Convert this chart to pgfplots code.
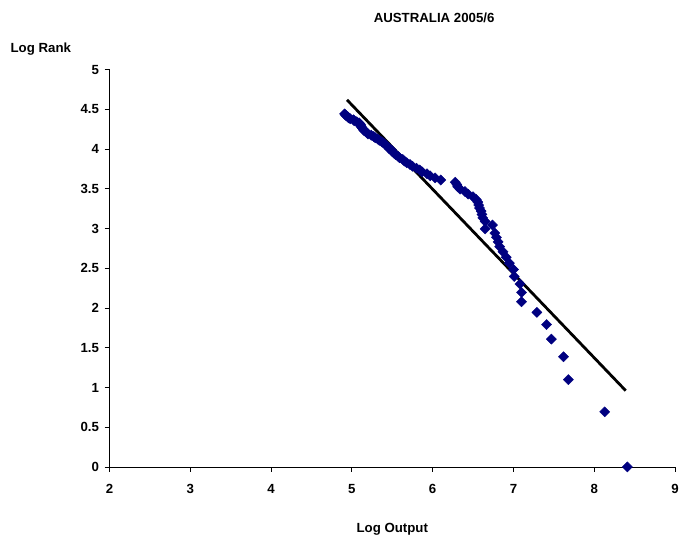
\documentclass[border=0pt]{standalone}
\usepackage{pgfplots}
\pgfplotsset{compat=1.18}
\usepackage{fontspec}
\setmainfont{Liberation Sans}

\definecolor{excelnavy}{RGB}{0,0,128}

\begin{document}
\begin{tikzpicture}[font=\bfseries\fontsize{13.3}{15}\selectfont]
\begin{axis}[
    name=ax,
    scale only axis,
    width=568pt,
    height=399pt,
    xmin=2, xmax=9,
    ymin=0, ymax=5,
    xtick={2,3,...,9},
    ytick={0,0.5,...,5},
    yticklabels={0,0.5,1,1.5,2,2.5,3,3.5,4,4.5,5},
    axis lines*=left,
    axis line style={-, line width=0.8pt},
    tick style={black, line width=0.8pt},
    tick align=outside,
    major tick length=5pt,
    /pgf/number format/assume math mode=true,
    ticklabel style={font=\bfseries\fontsize{13.3}{15}\selectfont},
    xticklabel style={yshift=-9pt},
    yticklabel style={xshift=-2pt},
    clip=false,
]
% log rank vs log output, one point per firm
\addplot[only marks, mark=square*, mark options={rotate=45}, mark size=3.6pt, color=excelnavy] coordinates {
(8.41,0.000) (8.13,0.693) (7.68,1.099) (7.62,1.386) (7.47,1.609)
(7.41,1.792) (7.29,1.946) (7.10,2.079) (7.10,2.197) (7.08,2.303)
(7.01,2.398) (7.00,2.485) (6.95,2.565) (6.91,2.639) (6.87,2.708)
(6.83,2.773) (6.81,2.833) (6.79,2.890) (6.77,2.944) (6.65,2.996)
(6.74,3.045) (6.65,3.091) (6.62,3.135) (6.61,3.178) (6.60,3.219)
(6.58,3.258) (6.57,3.296) (6.56,3.332) (6.54,3.367) (6.50,3.401)
(6.44,3.434) (6.40,3.466) (6.34,3.497) (6.31,3.526) (6.30,3.555)
(6.28,3.584) (6.10,3.611) (6.03,3.638) (5.97,3.664) (5.93,3.689)
(5.87,3.714) (5.84,3.738) (5.80,3.761) (5.75,3.784) (5.72,3.807)
(5.68,3.829) (5.65,3.850) (5.63,3.871) (5.59,3.892) (5.57,3.912)
(5.54,3.932) (5.52,3.951) (5.50,3.970) (5.49,3.989) (5.46,4.007)
(5.45,4.025) (5.43,4.043) (5.41,4.060) (5.39,4.078) (5.37,4.094)
(5.34,4.111) (5.32,4.127) (5.29,4.143) (5.27,4.159) (5.24,4.174)
(5.20,4.190) (5.19,4.205) (5.17,4.220) (5.15,4.234) (5.14,4.248)
(5.13,4.263) (5.12,4.277) (5.11,4.290) (5.11,4.304) (5.10,4.317)
(5.09,4.331) (5.06,4.344) (5.03,4.357) (5.02,4.369) (4.98,4.382)
(4.96,4.394) (4.95,4.407) (4.93,4.419) (4.92,4.431) (4.91,4.443)
};
% fitted line
\addplot[black, line width=2.8pt] coordinates {(4.94,4.62) (8.39,0.96)};

\node at (rel axis cs:0.574,1) [yshift=52pt] {AUSTRALIA 2005/6};
\node at (rel axis cs:0,1) [xshift=-69pt, yshift=21pt] {Log Rank};
\node at (rel axis cs:0.5,0) [yshift=-63pt] {Log Output};
\end{axis}
\useasboundingbox ([xshift=-110pt,yshift=-72pt]ax.south west) rectangle ([xshift=4pt,yshift=70pt]ax.north east);
\end{tikzpicture}
\end{document}
